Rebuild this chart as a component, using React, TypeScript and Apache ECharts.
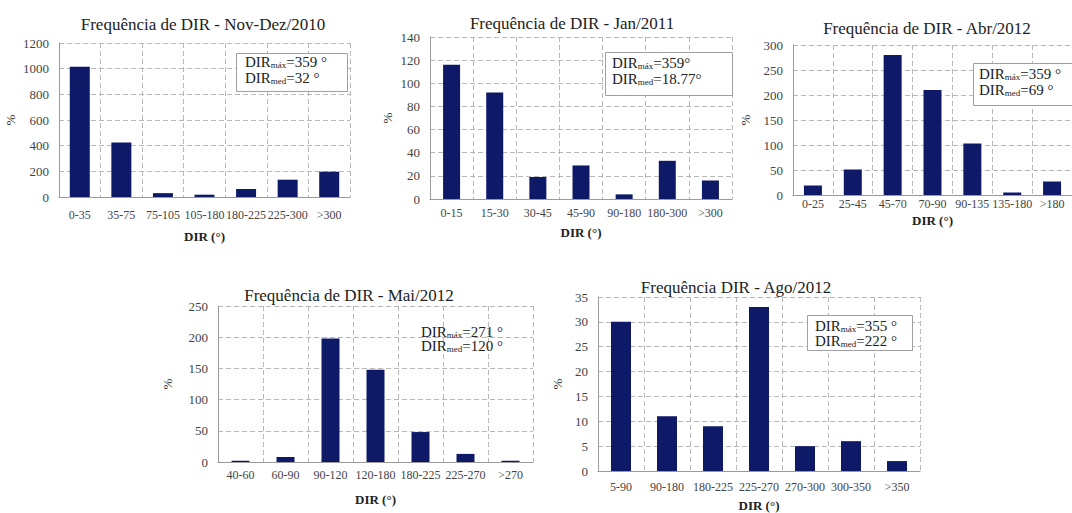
import React, { useEffect, useRef } from "react";
import * as echarts from "echarts";

const cats1 = ["0-35", "35-75", "75-105", "105-180", "180-225", "225-300", ">300"];
const vals1 = [1015, 425, 30, 18, 62, 135, 197];
const cats2 = ["0-15", "15-30", "30-45", "45-90", "90-180", "180-300", ">300"];
const vals2 = [116, 92, 19, 29, 4, 33, 16];
const cats3 = ["0-25", "25-45", "45-70", "70-90", "90-135", "135-180", ">180"];
const vals3 = [19, 51, 280, 210, 103, 5, 27];
const cats4 = ["40-60", "60-90", "90-120", "120-180", "180-225", "225-270", ">270"];
const vals4 = [2, 8, 198, 148, 48, 13, 2];
const cats5 = ["5-90", "90-180", "180-225", "225-270", "270-300", "300-350", ">350"];
const vals5 = [30, 11, 9, 33, 5, 6, 2];

const titles = [
  "Frequência de DIR - Nov-Dez/2010",
  "Frequência de DIR - Jan/2011",
  "Frequência de DIR - Abr/2012",
  "Frequência de DIR - Mai/2012",
  "Frequência DIR - Ago/2012",
];
const maxTexts = ["=359 °", "=359°", "=359 °", "=271 °", "=355 °"];
const medTexts = ["=32 °", "=18.77°", "=69 °", "=120 °", "=222 °"];
const yMax = [1200, 140, 300, 250, 35];
const yStep = [200, 20, 50, 50, 5];
const xName = "DIR (°)";
const yName = "%";

const FONT = "Liberation Serif";
const BAR = "#0e1a68";

// layout per panel
const layout = [
  { left: 59, top: 43, width: 291, height: 154, barW: 20, lblM: 12, nameGap: 33, yNameGap: 42, tx: 203, ty: 24, box: [236, 53, 111, 38], ax: 245, ay: [62, 78] },
  { left: 430, top: 37, width: 302, height: 162, barW: 17, lblM: 8, nameGap: 27, yNameGap: 36, tx: 572, ty: 23, box: [605, 52, 127, 43], ax: 612, ay: [63, 79] },
  { left: 793, top: 45, width: 287, height: 150, barW: 18, lblM: 3, nameGap: 19, yNameGap: 41, tx: 927, ty: 28, box: [973, 63, 107, 42], ax: 979, ay: [74, 90] },
  { left: 218, top: 306, width: 315, height: 156, barW: 18, lblM: 7, nameGap: 31, yNameGap: 44, tx: 349, ty: 295, box: null, ax: 421, ay: [332, 346] },
  { left: 598, top: 297, width: 322, height: 175, barW: 20, lblM: 10, nameGap: 28, yNameGap: 34, tx: 736, ty: 287, box: [807, 315, 105, 35], ax: 815, ay: [326, 341] },
];

const catsAll = [cats1, cats2, cats3, cats4, cats5];
const valsAll = [vals1, vals2, vals3, vals4, vals5];

export default function App() {
  const ref = useRef<HTMLDivElement>(null);
  useEffect(() => {
    if (!ref.current) return;
    const chart = echarts.init(ref.current, null, { renderer: "svg" });
    const rich = {
      a: { fontSize: 15, fontFamily: FONT, fill: "#222" },
      s: { fontSize: 9, fontFamily: FONT, fill: "#222", verticalAlign: "bottom", padding: [5, 0, 0, 0] },
    };
    const graphics: any[] = [];
    layout.forEach((L, i) => {
      graphics.push({
        type: "text",
        x: L.tx,
        y: L.ty,
        style: { text: titles[i], fontSize: 17, fontFamily: FONT, fill: "#222", textAlign: "center", textVerticalAlign: "middle" },
      });
      if (L.box) {
        graphics.push({
          type: "rect",
          shape: { x: L.box[0] + 0.5, y: L.box[1] + 0.5, width: L.box[2], height: L.box[3] },
          style: { fill: "#fff", stroke: "#a0a0a0", lineWidth: 1 },
          z: 10,
        });
      }
      graphics.push({
        type: "text",
        x: L.ax,
        y: L.ay[0],
        z: 11,
        style: { text: "{a|DIR}{s|máx}{a|" + maxTexts[i] + "}", rich, fontFamily: FONT, textVerticalAlign: "middle" },
      });
      graphics.push({
        type: "text",
        x: L.ax,
        y: L.ay[1],
        z: 11,
        style: { text: "{a|DIR}{s|med}{a|" + medTexts[i] + "}", rich, fontFamily: FONT, textVerticalAlign: "middle" },
      });
    });

    const option: any = {
      animation: false,
      backgroundColor: "#fff",
      textStyle: { fontFamily: FONT },
      grid: layout.map((L) => ({ left: L.left, top: L.top, width: L.width, height: L.height, containLabel: false })),
      xAxis: layout.map((L, i) => ({
        type: "category",
        gridIndex: i,
        data: catsAll[i],
        name: xName,
        nameLocation: "middle",
        nameGap: L.nameGap,
        nameTextStyle: { fontFamily: FONT, fontSize: 13, fontWeight: "bold", color: "#222" },
        axisLine: { show: true, lineStyle: { color: "#9a9a9a", width: 1 } },
        axisTick: { show: false },
        axisLabel: { interval: 0, margin: L.lblM, fontFamily: FONT, fontSize: 12, color: "#444" },
        splitLine: { show: true, lineStyle: { color: "#b8b8b8", type: [5, 3], width: 1 } },
      })),
      yAxis: layout.map((L, i) => ({
        type: "value",
        gridIndex: i,
        min: 0,
        max: yMax[i],
        interval: yStep[i],
        name: yName,
        nameLocation: "middle",
        nameGap: L.yNameGap,
        nameTextStyle: { fontFamily: FONT, fontSize: 13, color: "#333" },
        axisLine: { show: true, lineStyle: { color: "#9a9a9a", width: 1 } },
        axisTick: { show: false },
        axisLabel: { margin: 10, fontFamily: FONT, fontSize: 13, color: "#444", formatter: (v: number) => String(v) },
        splitLine: { show: true, lineStyle: { color: "#b8b8b8", type: [5, 3], width: 1 } },
      })),
      series: layout.map((L, i) => ({
        type: "bar",
        xAxisIndex: i,
        yAxisIndex: i,
        data: valsAll[i],
        barWidth: L.barW,
        itemStyle: { color: BAR },
      })),
      graphic: graphics,
    };
    chart.setOption(option);
    return () => chart.dispose();
  }, []);
  return <div ref={ref} style={{ position: "absolute", left: 0, top: 0, width: 1072, height: 513 }} />;
}
